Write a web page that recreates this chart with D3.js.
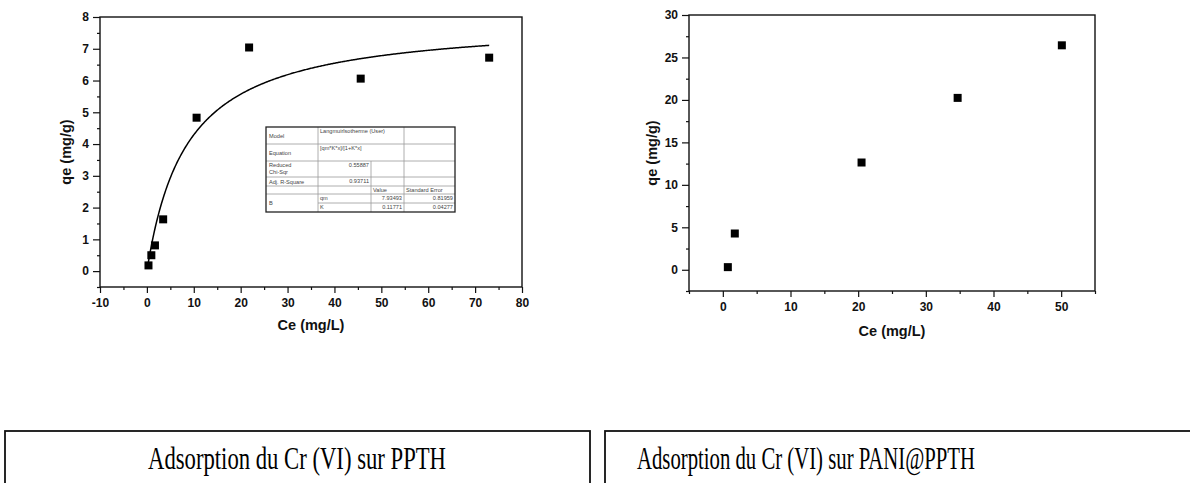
<!DOCTYPE html>
<html>
<head>
<meta charset="utf-8">
<script src="https://cdn.jsdelivr.net/npm/d3@7"></script>
<style>
  html, body { margin: 0; padding: 0; background: #fff; }
  svg { display: block; }
</style>
</head>
<body>
<svg id="fig" width="1190" height="483"></svg>
<script>
// ---- PPTH isotherm (left panel) ----
const ppthCe = [0.34, 0.95, 1.72, 3.47, 10.6, 21.8, 45.6, 73.0];
const ppthQe = [0.18, 0.50, 0.81, 1.63, 4.83, 7.04, 6.06, 6.72];
const ppthXTicks = [-10, 0, 10, 20, 30, 40, 50, 60, 70, 80];
const ppthYTicks = [0, 1, 2, 3, 4, 5, 6, 7, 8];

// Langmuir fit parameters reported in the fit table
const fitQm = 7.93493;
const fitK = 0.11771;
const fitRange = [0.2, 73.0];

// Fit report table (rows of cells)
const fitModel = "Langmuirlsotherme (User)";
const fitEquation = "[qm*K*x]/[1+K*x]";
const fitChiSqr = "0.55887";
const fitAdjR2 = "0.93711";
const fitParamNames = ["qm", "K"];
const fitParamValues = ["7.93493", "0.11771"];
const fitParamErrors = ["0.81959", "0.04277"];

// ---- PANI@PPTH isotherm (right panel) ----
const paniCe = [0.74, 1.77, 20.5, 34.7, 50.1];
const paniQe = [0.31, 4.27, 12.63, 20.24, 26.43];
const paniXTicks = [0, 10, 20, 30, 40, 50];
const paniYTicks = [0, 5, 10, 15, 20, 25, 30];

const captions = ["Adsorption du Cr (VI) sur PPTH", "Adsorption du Cr (VI) sur PANI@PPTH"];

const svg = d3.select("#fig");
const FONT = '"Liberation Sans", Arial, sans-serif';
const fmtTick = d => (d < 0 ? "-" : "") + Math.abs(d);

function panel(opts) {
  const { box, xDomain, yDomain, xTicks, yTicks, xMinor, yMinor, xs, ys } = opts;
  const x = d3.scaleLinear().domain(xDomain).range([box.left, box.right]);
  const y = d3.scaleLinear().domain(yDomain).range([box.bottom, box.top]);
  const g = svg.append("g");

  // frame
  g.append("rect")
    .attr("x", box.left).attr("y", box.top)
    .attr("width", box.right - box.left).attr("height", box.bottom - box.top)
    .attr("fill", "none").attr("stroke", "#111").attr("stroke-width", 1.4);

  const styleTicks = s => {
    s.select(".domain").remove();
    s.selectAll("line").attr("stroke", "#111").attr("stroke-width", 1.2);
    s.selectAll("text")
      .attr("font-size", 12).attr("font-weight", "bold")
      .attr("fill", "#111").attr("font-family", FONT);
  };

  // minor ticks
  g.append("g").attr("transform", `translate(0,${box.bottom})`)
    .call(d3.axisBottom(x).tickValues(xMinor).tickSize(3).tickFormat(""))
    .call(styleTicks);
  g.append("g").attr("transform", `translate(${box.left},0)`)
    .call(d3.axisLeft(y).tickValues(yMinor).tickSize(3).tickFormat(""))
    .call(styleTicks);

  // major ticks + labels
  g.append("g").attr("transform", `translate(0,${box.bottom})`)
    .call(d3.axisBottom(x).tickValues(xTicks).tickSize(6).tickPadding(5).tickFormat(fmtTick))
    .call(styleTicks);
  g.append("g").attr("transform", `translate(${box.left},0)`)
    .call(d3.axisLeft(y).tickValues(yTicks).tickSize(7).tickPadding(4).tickFormat(fmtTick))
    .call(styleTicks);

  // axis titles
  g.append("text")
    .attr("x", (box.left + box.right) / 2).attr("y", box.bottom + opts.xTitleDy)
    .attr("text-anchor", "middle")
    .attr("font-family", FONT).attr("font-weight", "bold").attr("font-size", 14.5).attr("fill", "#111")
    .text("Ce (mg/L)");
  g.append("text")
    .attr("transform", `translate(${opts.yTitleX},${(box.top + box.bottom) / 2}) rotate(-90)`)
    .attr("text-anchor", "middle")
    .attr("font-family", FONT).attr("font-weight", "bold").attr("font-size", 14.5).attr("fill", "#111")
    .text("qe (mg/g)");

  // square markers
  const size = 8;
  g.append("g").selectAll("rect")
    .data(xs.map((v, i) => [v, ys[i]]))
    .join("rect")
    .attr("x", d => x(d[0]) - size / 2).attr("y", d => y(d[1]) - size / 2)
    .attr("width", size).attr("height", size)
    .attr("fill", "#000");

  return { x, y, g };
}

// left panel
const left = panel({
  box: { left: 100, right: 522, top: 17, bottom: 287 },
  xDomain: [-10, 80], yDomain: [-0.5, 8],
  xTicks: ppthXTicks, yTicks: ppthYTicks,
  xMinor: d3.range(-5, 80, 10), yMinor: d3.range(-0.5, 8, 1),
  xs: ppthCe, ys: ppthQe,
  xTitleDy: 43, yTitleX: 71
});

// Langmuir curve q = qm*K*c / (1 + K*c)
const curveCe = d3.range(0, 401).map(i => fitRange[0] + (fitRange[1] - fitRange[0]) * i / 400);
left.g.append("path")
  .datum(curveCe)
  .attr("fill", "none").attr("stroke", "#000").attr("stroke-width", 1.5)
  .attr("d", d3.line()
    .x(c => left.x(c))
    .y(c => left.y(fitQm * fitK * c / (1 + fitK * c))));

// fit report table
(function table() {
  const cols = [266, 318, 371, 404, 455];
  const rows = [127, 144, 161, 177, 186, 194, 203, 212];
  const t = left.g.append("g");
  const line = (x1, y1, x2, y2) => t.append("line")
    .attr("x1", x1).attr("y1", y1).attr("x2", x2).attr("y2", y2)
    .attr("stroke", "#9a9a9a").attr("stroke-width", 0.8);
  t.append("rect").attr("x", cols[0]).attr("y", rows[0])
    .attr("width", cols[4] - cols[0]).attr("height", rows[7] - rows[0])
    .attr("fill", "#fff");
  // horizontal rules
  for (let r = 1; r < 7; r++) {
    if (r === 6) line(cols[1], rows[r], cols[4], rows[r]);
    else line(cols[0], rows[r], cols[4], rows[r]);
  }
  // vertical rules
  line(cols[1], rows[0], cols[1], rows[7]);
  line(cols[2], rows[2], cols[2], rows[7]);
  line(cols[3], rows[0], cols[3], rows[7]);
  t.append("rect").attr("x", cols[0]).attr("y", rows[0])
    .attr("width", cols[4] - cols[0]).attr("height", rows[7] - rows[0])
    .attr("fill", "none").attr("stroke", "#222").attr("stroke-width", 1.3);

  const txt = (s, xx, yy, anchor) => t.append("text")
    .attr("x", xx).attr("y", yy).attr("text-anchor", anchor || "start")
    .attr("font-family", FONT).attr("font-size", 5.6).attr("fill", "#444").text(s);
  txt("Model", cols[0] + 3, 137.5);
  txt(fitModel, cols[1] + 2, 133);
  txt("Equation", cols[0] + 3, 154.5);
  txt(fitEquation, cols[1] + 2, 150);
  txt("Reduced", cols[0] + 3, 167);
  txt("Chi-Sqr", cols[0] + 3, 174);
  txt(fitChiSqr, cols[2] - 2, 166.5, "end");
  txt("Adj. R-Square", cols[0] + 3, 183.5);
  txt(fitAdjR2, cols[2] - 2, 182.5, "end");
  txt("Value", cols[2] + 2, 191.5);
  txt("Standard Error", cols[3] + 2, 191.5);
  txt("B", cols[0] + 3, 205);
  fitParamNames.forEach((n, i) => {
    const yy = (i === 0 ? 200 : 209);
    txt(n, cols[1] + 2, yy);
    txt(fitParamValues[i], cols[3] - 2, yy, "end");
    txt(fitParamErrors[i], cols[4] - 2, yy, "end");
  });
})();

// right panel
panel({
  box: { left: 689, right: 1095, top: 15, bottom: 291 },
  xDomain: [-5, 55], yDomain: [-2.5, 30],
  xTicks: paniXTicks, yTicks: paniYTicks,
  xMinor: d3.range(-5, 56, 10), yMinor: d3.range(-2.5, 30, 5),
  xs: paniCe, ys: paniQe,
  xTitleDy: 45, yTitleX: 657
});

// caption boxes
const capBoxes = [
  { x: 5, w: 585, tx: 297, tw: 298 },
  { x: 605, w: 600, tx: 806, tw: 338 }
];
capBoxes.forEach((b, i) => {
  svg.append("rect").attr("x", b.x).attr("y", 431).attr("width", b.w).attr("height", 80)
    .attr("fill", "none").attr("stroke", "#111").attr("stroke-width", 1.8);
  svg.append("text")
    .attr("x", b.tx).attr("y", 469).attr("text-anchor", "middle")
    .attr("font-family", '"Liberation Serif", "Times New Roman", serif').attr("font-size", 31)
    .attr("textLength", b.tw).attr("lengthAdjust", "spacingAndGlyphs")
    .attr("fill", "#000")
    .text(captions[i]);
});
</script>
</body>
</html>
